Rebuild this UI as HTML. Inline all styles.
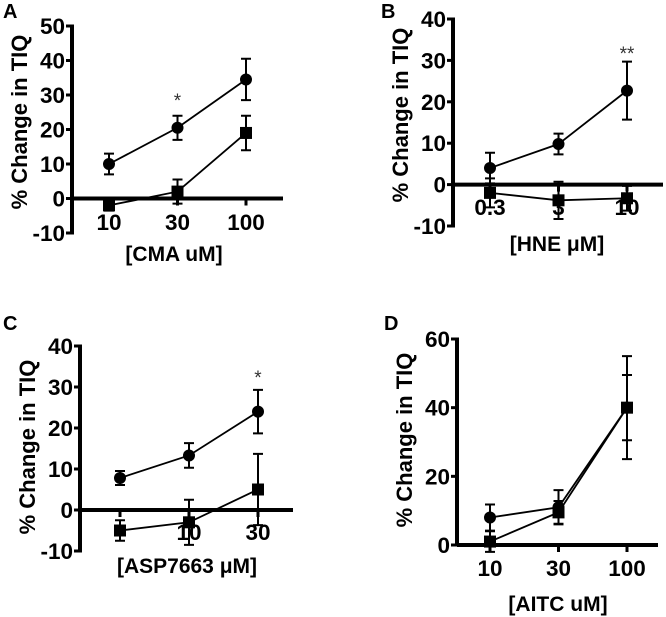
<!DOCTYPE html>
<html><head><meta charset="utf-8"><style>
html,body{margin:0;padding:0;background:#fff;}
svg{display:block;font-family:"Liberation Sans",Arial,sans-serif;}
</style></head><body>
<svg id="fig" width="666" height="617" viewBox="0 0 666 617"></svg>
<script>
// Panel A data
const catsA = ["10","30","100"];
const circA = [10, 20.5, 34.5];
const circErrA = [3, 3.5, 6];
const sqA = [-2, 2, 19];
const sqErrA = [1.5, 3.5, 5];
const yTicksA = [50,40,30,20,10,0,-10];
// Panel B data
const catsB = ["0.3","3","10"];
const circB = [4, 9.8, 22.7];
const circErrB = [3.7, 2.5, 7];
const sqB = [-2, -3.8, -3.3];
const sqErrB = [3.5, 4.5, 3];
const yTicksB = [40,30,20,10,0,-10];
// Panel C data
const catsC = ["", "10", "30"];
const circC = [7.8, 13.3, 24];
const circErrC = [1.7, 3, 5.3];
const sqC = [-5, -3, 5];
const sqErrC = [2.5, 5.5, 8.7];
const yTicksC = [40,30,20,10,0,-10];
// Panel D data
const catsD = ["10","30","100"];
const circD = [8, 11, 40];
const circErrD = [3.8, 5, 9.5];
const sqD = [1, 9.5, 40];
const sqErrD = [3, 3.3, 15];
const yTicksD = [60,40,20,0];

const NS="http://www.w3.org/2000/svg";
const svg=document.getElementById('fig');
function mk(tag,attrs,parent,text){const e=document.createElementNS(NS,tag);for(const k in attrs)e.setAttribute(k,attrs[k]);if(text!==undefined)e.textContent=text;(parent||svg).appendChild(e);return e;}

function panel(p){
  const g=mk('g',{});
  
  
  const ymin=p.yTicks[p.yTicks.length-1], ymax=p.yTicks[0];
  const ys=v=>p.yBot+(v-ymin)*(p.yTop-p.yBot)/(ymax-ymin);
  const xs=i=>p.xs0+i*p.dx;
  const y0=ys(p.xAxisAt);
  const L=mk('text',{x:p.letX,y:p.letY,'font-size':20,'font-weight':'bold'},g,p.id);
  
  
  const ya=mk('line',{x1:p.ax,x2:p.ax,y1:ys(ymax)-1.5,y2:ys(ymin)+1.5,stroke:'#000','stroke-width':4},g);
  
  
  p.yTicks.forEach(t=>{
    mk('line',{x1:p.ax-6,x2:p.ax,y1:ys(t),y2:ys(t),stroke:'#000','stroke-width':3},g);
    const tl=mk('text',{x:p.ax-7,y:ys(t)+8,'font-size':22.5,'font-weight':'bold','text-anchor':'end'},g,String(t));
    
    
  });
  const xa=mk('line',{x1:p.ax,x2:p.xEnd,y1:y0,y2:y0,stroke:'#000','stroke-width':4},g);
  
  
  p.cats.forEach((c,i)=>{
    mk('line',{x1:xs(i),x2:xs(i),y1:y0,y2:y0+7,stroke:'#000','stroke-width':3},g);
    if(c){const tl=mk('text',{x:xs(i),y:p.tickY,'font-size':22.5,'font-weight':'bold','text-anchor':'middle'},g,c);
    
    }
  });
  const xt=mk('text',{x:p.xtX,y:p.xtY,'font-size':21,'font-weight':'bold','text-anchor':'middle'},g,p.xTitle);
  
  
  const yt=mk('text',{x:0,y:0,'font-size':22,'font-weight':'bold','text-anchor':'middle',transform:`translate(${p.ytX},${p.ytY}) rotate(-90)`},g,'% Change in TIQ');
  
  
  [[p.sq,p.sqErr,'square'],[p.circ,p.circErr,'circle']].forEach(([vals,errs,kind])=>{
    const pts=vals.map((v,i)=>xs(i)+','+ys(v)).join(' ');
    const ln=mk('polyline',{points:pts,fill:'none',stroke:'#000','stroke-width':1.8},g);
    
    
    vals.forEach((v,i)=>{
      const x=xs(i),hi=ys(v+errs[i]),lo=ys(v-errs[i]);
      const eb=mk('path',{d:`M${x},${hi}V${lo}M${x-5},${hi}H${x+5}M${x-5},${lo}H${x+5}`,stroke:'#000','stroke-width':2,fill:'none'},g);
      
      
      let m;
      if(kind==='circle') m=mk('circle',{cx:x,cy:ys(v),r:6,fill:'#000'},g);
      else m=mk('rect',{x:x-6,y:ys(v)-6,width:12,height:12,fill:'#000'},g);
      
      
    });
  });
  if(p.star){const s=mk('text',{x:xs(p.star.i),y:p.star.y,'font-size':19,'text-anchor':'middle',fill:'#333'},g,p.star.t);
    
    }
}

panel({id:'A',cats:catsA,circ:circA,circErr:circErrA,sq:sqA,sqErr:sqErrA,yTicks:yTicksA,
  yTop:26,yBot:233,ax:72,xs0:109,dx:68.5,xEnd:283,xAxisAt:0,tickY:230,xtX:174,xtY:261,ytX:27,ytY:122,letX:3,letY:18,xTitle:'[CMA uM]',star:{i:1,y:107,t:'*'}});
panel({id:'B',cats:catsB,circ:circB,circErr:circErrB,sq:sqB,sqErr:sqErrB,yTicks:yTicksB,
  yTop:19,yBot:226,ax:453,xs0:490,dx:68.5,xEnd:663,xAxisAt:0,tickY:215,xtX:557,xtY:251,ytX:408,ytY:115,letX:381,letY:18,xTitle:'[HNE \u03bcM]',star:{i:2,y:60,t:'**'}});
panel({id:'C',cats:catsC,circ:circC,circErr:circErrC,sq:sqC,sqErr:sqErrC,yTicks:yTicksC,
  yTop:346,yBot:551,ax:80,xs0:120,dx:69,xEnd:293,xAxisAt:0,tickY:540,xtX:187,xtY:573,ytX:35,ytY:447,letX:3,letY:330,xTitle:'[ASP7663 \u03bcM]',star:{i:2,y:384,t:'*'}});
panel({id:'D',cats:catsD,circ:circD,circErr:circErrD,sq:sqD,sqErr:sqErrD,yTicks:yTicksD,
  yTop:339,yBot:545,ax:457,xs0:490,dx:68.5,xEnd:658,xAxisAt:0,tickY:576,xtX:558,xtY:611,ytX:412,ytY:440,letX:384,letY:330,xTitle:'[AITC uM]'});
</script>
</body></html>
